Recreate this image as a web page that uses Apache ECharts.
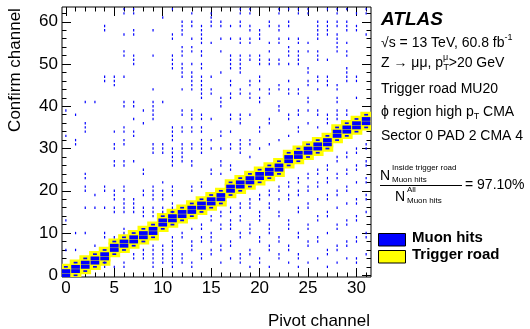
<!DOCTYPE html>
<html><head><meta charset="utf-8">
<script src="https://cdn.jsdelivr.net/npm/echarts@6/dist/echarts.min.js"></script>
<style>html,body{margin:0;padding:0;background:#fff}#c{width:530px;height:329px}</style>
</head><body><div id="c"></div>
<script>
// ---------------- data ----------------
const pivotMajor = [0,5,10,15,20,25,30];
const pivotMinor = [1,2,3,4,6,7,8,9,11,12,13,14,16,17,18,19,21,22,23,24,26,27,28,29,31];
const confirmMajor = [0,10,20,30,40,50,60];
const confirmMinor = [2,4,6,8,12,14,16,18,22,24,26,28,32,34,36,38,42,44,46,48,52,54,56,58,62];

// lowest of the two saturated confirm channels on the diagonal, per pivot channel 0..31
const coreLow = [0,1,2,3,4,6,7,8,9,10,12,13,14,15,16,17,18,20,21,22,23,24,25,27,28,29,30,31,33,34,35,36];
// relative box content at coreLow-1, coreLow, coreLow+1, coreLow+2
const coreShape = [40,90,90,40];

// trigger road (yellow), inclusive confirm channel range per pivot channel
const roadLow  = [0,0,1,2,3,5,6,7,8,9,11,12,13,14,15,16,17,19,20,21,22,23,24,26,27,28,29,30,32,33,34,35];
const roadHigh = [2,3,4,5,6,8,9,10,11,12,14,15,16,17,18,19,20,22,23,24,25,26,27,29,30,31,32,33,35,36,37,38];

// confirm channels with a few muon hits, per pivot channel
const sparseHits = [
 [39,33,13,6],
 [38,32,31,10,6],
 [41,36,35,34,24,23,21,20,16,10],
 [41,19,16,7],
 [59,58,47,46,21,20,16,10,9,3,2],
 [47,46,45,34,31,30,27,26,20,19,18,16,15,9,2],
 [63,62,57,53,52,47,41,40,35,34,32,31,27,26,21,20,18,17,16,15,11,10,3,2],
 [63,62,58,57,52,51,50,41,40,37,34,33,27,18,17,16,15,5,4],
 [39,36,25,24,20,19,16,15,14,6,5,4],
 [58,52,44,41,40,39,38,37,31,30,29,21,20,19,18,16,15,14,7,6,5,4,3,2],
 [61,41,31,30,29,22,20,19,18,16,15,7,6,5,4,3],
 [63,57,56,52,51,50,49,35,34,33,32,30,29,28,27,26,21,20,19,17,16,15,9,8,7,6,5,4,3,2],
 [60,59,58,57,54,53,52,50,49,48,47,44,39,38,35,34,31,30,29,28,27,10,9,5,4,3],
 [62,60,59,56,54,53,50,48,47,46,45,44,39,38,37,35,34,31,30,27,26,21,20,11,8,7,6,3,2],
 [59,58,57,56,55,53,52,50,49,47,46,45,44,43,42,38,37,35,34,32,31,30,29,22,21,12,11,9,8,5,4],
 [62,61,60,59,55,47,44,43,37,32,30,25,24,14,13,10,9,8,6,5],
 [60,59,56,53,48,42,41,40,34,33,30,27,26,24,15,14,12,11,7,6,3],
 [59,56,52,51,50,49,46,45,43,42,38,37,34,31,30,26,25,16,15,13,12,11,8,7,4],
 [63,62,60,59,56,55,52,51,50,49,48,44,43,38,37,36,32,31,30,29,17,16,14,13,10,9,5,4,3],
 [63,62,59,58,56,55,52,51,46,45,43,42,38,32,31,28,18,17,16,12,11,10,6,5,2],
 [58,57,56,52,51,50,47,46,44,42,41,35,34,30,19,18,15,14,13,9,8,4,3],
 [60,59,55,53,51,50,44,43,37,36,31,20,19,17,16,12,11,10,7,6,2],
 [63,62,59,58,56,55,51,50,45,44,40,39,32,21,20,18,15,14,9,8,5,4],
 [63,60,59,56,54,53,52,50,46,44,43,38,37,33,22,21,19,18,13,12,11,7,6,3],
 [63,62,56,55,53,52,51,50,44,43,39,38,35,34,23,22,20,19,16,15,10,9,5,4,2],
 [63,62,55,53,49,48,46,45,42,41,39,36,24,23,21,20,17,16,12,11,8,7,3],
 [60,59,58,57,56,53,52,51,47,46,44,39,38,35,25,24,22,21,18,14,13,9,8,4],
 [63,60,59,58,57,51,47,46,45,38,37,36,26,25,23,22,19,18,15,14,10,6,5,2],
 [63,62,60,59,57,56,55,54,53,45,44,42,41,39,38,37,28,27,24,23,20,19,16,12,11,7,6,3],
 [63,60,59,58,55,53,52,49,48,47,46,39,38,29,28,25,24,21,20,17,13,12,8,7,4],
 [62,59,58,47,46,42,30,29,26,25,22,18,17,14,13,9,8,4,3],
 [63,62,57,31,30,27,26,23,22,19,18,15,10,9,5]
];

// ---------------- build ----------------
const xMin = -0.4, xMax = 31.5, yMin = -0.4, yMax = 63.5;
const F = '"Liberation Sans", Arial, Helvetica, sans-serif';

const roadCells = [];
roadLow.forEach((lo, x) => { for (let y = lo; y <= roadHigh[x]; y++) roadCells.push([x, y]); });

const hitCells = [];
sparseHits.forEach((ys, x) => ys.forEach(y => hitCells.push([x, y, 1])));
coreLow.forEach((lo, x) => coreShape.forEach((n, k) => { const y = lo - 1 + k; if (y >= 0) hitCells.push([x, y, n]); }));

function renderRoad(params, api) {
  const c = api.coord([api.value(0), api.value(1)]);
  const s = api.size([1, 1]);
  return { type: 'rect', shape: { x: c[0] - s[0] / 2, y: c[1] - s[1] / 2, width: s[0], height: s[1] },
    style: { fill: '#ffff00', stroke: '#ffff00', lineWidth: 2 } };
}
function renderHit(params, api) {
  const c = api.coord([api.value(0), api.value(1)]);
  const s = api.size([1, 1]);
  const n = api.value(2);
  let w, h;
  if (n <= 2) { w = 1.2; h = 2.4; }
  else { w = s[0] * n / 100; h = s[1] * n / 100; }
  return { type: 'rect', shape: { x: c[0] - w / 2, y: c[1] - h / 2, width: w, height: h },
    style: { fill: '#0000ff' } };
}

function xAx(pos, vals, len, lab) {
  return { type: 'value', position: pos, min: xMin, max: xMax,
    axisLine: { show: false, onZero: false }, splitLine: { show: false },
    axisTick: { show: true, inside: true, length: len, customValues: vals, lineStyle: { color: '#000', width: 1 } },
    axisLabel: lab ? { show: true, customValues: vals, fontSize: 17, color: '#000', margin: 3, fontFamily: F } : { show: false } };
}
function yAx(pos, vals, len, lab) {
  return { type: 'value', position: pos, min: yMin, max: yMax,
    axisLine: { show: false, onZero: false }, splitLine: { show: false },
    axisTick: { show: true, inside: true, length: len, customValues: vals, lineStyle: { color: '#000', width: 1 } },
    axisLabel: lab ? { show: true, customValues: vals, fontSize: 17, color: '#000', margin: 4, fontFamily: F } : { show: false } };
}

// text helpers
const mctx = document.createElement('canvas').getContext('2d');
function tw(t, size, weight, style) {
  mctx.font = (style || 'normal') + ' ' + (weight || 'normal') + ' ' + size + 'px ' + F;
  return mctx.measureText(t).width;
}
function T(x, y, text, size, opt) {
  opt = opt || {};
  return { type: 'text', x: x, y: y, rotation: opt.rot || 0,
    style: { text: text, fontSize: size, fontFamily: F, fontWeight: opt.weight || 'normal', fontStyle: opt.style || 'normal',
      fill: '#000', align: opt.align || 'left', verticalAlign: 'middle' } };
}
const g = [];
// axis titles
g.push(T(15, 70, 'Confirm channel', 17, { rot: Math.PI / 2, align: 'center' }));
g.push(T(370, 321, 'Pivot channel', 17, { align: 'right' }));
// ATLAS block
const X0 = 381;
g.push(T(X0, 20, 'ATLAS', 19, { weight: 'bold', style: 'italic' }));
let xx = X0;
g.push(T(xx, 43, '\u221As = 13 TeV, 60.8 fb', 14)); xx += tw('\u221As = 13 TeV, 60.8 fb', 14);
g.push(T(xx, 38, '-1', 9));
xx = X0;
g.push(T(xx, 63, 'Z \u2192 \u03BC\u03BC, p', 14)); xx += tw('Z \u2192 \u03BC\u03BC, p', 14);
g.push(T(xx, 58, '\u03BC', 9)); g.push(T(xx + 0.5, 68, 'T', 9)); xx += tw('\u03BC', 9) + 0.5;
g.push(T(xx, 63, '>20 GeV', 14));
g.push(T(X0, 89, 'Trigger road MU20', 14));
xx = X0;
g.push(T(xx, 112, '\u03D5 region high p', 14)); xx += tw('\u03D5 region high p', 14);
g.push(T(xx, 117, 'T', 9)); xx += tw('T', 9);
g.push(T(xx, 112, ' CMA', 14));
g.push(T(X0, 136, 'Sector 0 PAD 2 CMA 4', 14));
// efficiency fraction
g.push(T(380, 176, 'N', 14));
g.push(T(392, 168, 'Inside trigger road', 8));
g.push(T(392, 180, 'Muon hits', 8));
g.push({ type: 'line', shape: { x1: 380, y1: 185.5, x2: 462, y2: 185.5 }, style: { stroke: '#000', lineWidth: 1 } });
g.push(T(395, 197, 'N', 14));
g.push(T(407, 190, 'All', 8));
g.push(T(407, 201, 'Muon hits', 8));
g.push(T(465, 185, '= 97.10%', 14));
// legend
g.push({ type: 'rect', shape: { x: 378.5, y: 233.5, width: 27, height: 12.5 }, style: { fill: '#0000ff', stroke: '#000', lineWidth: 1 } });
g.push(T(412, 238, 'Muon hits', 15, { weight: 'bold' }));
g.push({ type: 'rect', shape: { x: 378.5, y: 250.5, width: 27, height: 12.5 }, style: { fill: '#ffff00', stroke: '#000', lineWidth: 1 } });
g.push(T(412, 255, 'Trigger road', 15, { weight: 'bold' }));

const chart = echarts.init(document.getElementById('c'), null, { renderer: 'canvas' });
chart.setOption({
  animation: false,
  backgroundColor: '#fff',
  grid: { left: 62, top: 7, width: 309, height: 270, show: true, borderColor: '#000', borderWidth: 1, backgroundColor: 'transparent' },
  xAxis: [xAx('bottom', pivotMajor, 9, true), xAx('bottom', pivotMinor, 4.5, false), xAx('top', pivotMajor, 9, false), xAx('top', pivotMinor, 4.5, false)],
  yAxis: [yAx('left', confirmMajor, 9, true), yAx('left', confirmMinor, 4.5, false), yAx('right', confirmMajor, 9, false), yAx('right', confirmMinor, 4.5, false)],
  series: [
    { type: 'custom', name: 'Trigger road', xAxisIndex: 0, yAxisIndex: 0, renderItem: renderRoad, data: roadCells, clip: true, z: 1 },
    { type: 'custom', name: 'Muon hits', xAxisIndex: 0, yAxisIndex: 0, renderItem: renderHit, data: hitCells, clip: true, z: 2 }
  ],
  graphic: g
});
</script></body></html>
